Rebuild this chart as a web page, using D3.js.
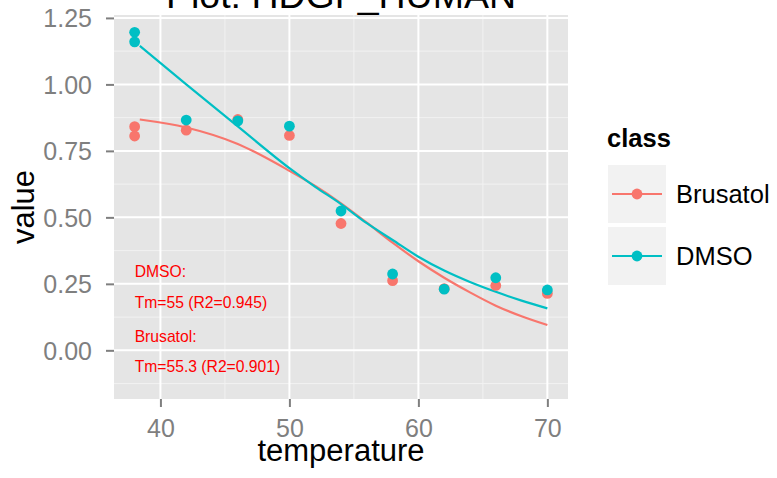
<!DOCTYPE html>
<html><head><meta charset="utf-8">
<script src="https://cdn.jsdelivr.net/npm/d3@7"></script>
<style>body{margin:0;background:#fff;} text{font-family:"Liberation Sans",Arial,Helvetica,sans-serif;}</style>
</head><body>
<svg id="chart" width="777" height="478"></svg>
<script>
// ---- data ----
const title = "Plot: HDGF_HUMAN";
const classes = ["Brusatol", "DMSO"];
const colors = ["#F8766D", "#00BFC4"];
const pointTemps = [38, 38, 42, 46, 50, 54, 58, 62, 66, 70];
const brusatolValues = [0.841, 0.806, 0.828, 0.868, 0.808, 0.477, 0.262, 0.232, 0.244, 0.214];
const dmsoValues = [1.196, 1.160, 0.866, 0.863, 0.843, 0.524, 0.287, 0.230, 0.273, 0.227];
const curveTemps = [38.4, 42, 46, 50, 52, 54, 56, 58, 60, 62, 64, 66, 68, 70];
const brusatolCurve = [0.868, 0.838, 0.776, 0.675, 0.618, 0.553, 0.48, 0.405, 0.335, 0.273, 0.218, 0.168, 0.128, 0.095];
const dmsoCurve = [1.145, 1.0, 0.842, 0.685, 0.615, 0.55, 0.478, 0.415, 0.352, 0.30, 0.257, 0.22, 0.187, 0.158];
const xTicks = [40, 50, 60, 70];
const xMinor = [45, 55, 65];
const yTicks = [0, 0.25, 0.5, 0.75, 1.0, 1.25];
const yMinor = [-0.125, 0.125, 0.375, 0.625, 0.875, 1.125];
const annotations = ["DMSO:", "Tm=55 (R2=0.945)", "Brusatol:", "Tm=55.3 (R2=0.901)"];
const annotationY = [0.298, 0.178, 0.051, -0.062];
const annotationX = 38;

// ---- layout ----
const svg = d3.select("#chart");
const P = {left: 114, right: 568, top: 15, bottom: 399};
const x = d3.scaleLinear().domain([36.4, 71.6]).range([P.left, P.right]);
const y = d3.scaleLinear().domain([-0.183, 1.261]).range([P.bottom, P.top]);
const color = d3.scaleOrdinal().domain(classes).range(colors);

// panel
svg.append("rect").attr("x", P.left).attr("y", P.top)
  .attr("width", P.right - P.left).attr("height", P.bottom - P.top).attr("fill", "#e5e5e5");
const grid = svg.append("g");
grid.selectAll(".ym").data(yMinor).join("line")
  .attr("x1", P.left).attr("x2", P.right).attr("y1", d => y(d)).attr("y2", d => y(d))
  .attr("stroke", "#f2f2f2").attr("stroke-width", 1);
grid.selectAll(".xm").data(xMinor).join("line")
  .attr("y1", P.top).attr("y2", P.bottom).attr("x1", d => x(d)).attr("x2", d => x(d))
  .attr("stroke", "#f2f2f2").attr("stroke-width", 1);
grid.selectAll(".yM").data(yTicks).join("line")
  .attr("x1", P.left).attr("x2", P.right).attr("y1", d => y(d)).attr("y2", d => y(d))
  .attr("stroke", "#fff").attr("stroke-width", 2);
grid.selectAll(".xM").data(xTicks).join("line")
  .attr("y1", P.top).attr("y2", P.bottom).attr("x1", d => x(d)).attr("x2", d => x(d))
  .attr("stroke", "#fff").attr("stroke-width", 2);

// axes
const xAxis = svg.append("g").attr("transform", `translate(0,${P.bottom})`)
  .call(d3.axisBottom(x).tickValues(xTicks).tickSize(8).tickPadding(6).tickFormat(d3.format("d")));
const yAxis = svg.append("g").attr("transform", `translate(${P.left},0)`)
  .call(d3.axisLeft(y).tickValues(yTicks).tickSize(8).tickPadding(14).tickFormat(d3.format(".2f")));
[xAxis, yAxis].forEach(a => {
  a.select(".domain").remove();
  a.selectAll(".tick line").attr("stroke", "#7f7f7f").attr("stroke-width", 2);
  a.selectAll(".tick text").attr("fill", "#7f7f7f").style("font-size", "25px")
    .style("font-family", "'Liberation Sans',Arial,Helvetica,sans-serif");
});
xAxis.selectAll(".tick text").attr("dy", null).attr("y", 38);
yAxis.selectAll(".tick text").attr("dy", "0.36em");

// lines
const line = d3.line().x(d => x(d[0])).y(d => y(d[1])).curve(d3.curveMonotoneX);
const curves = [brusatolCurve, dmsoCurve];
classes.forEach((c, i) => {
  svg.append("path").datum(curveTemps.map((t, j) => [t, curves[i][j]]))
    .attr("d", line).attr("fill", "none").attr("stroke", color(c)).attr("stroke-width", 2.2);
});

// points
const vals = [brusatolValues, dmsoValues];
classes.forEach((c, i) => {
  svg.append("g").selectAll("circle").data(pointTemps.map((t, j) => [t, vals[i][j]])).join("circle")
    .attr("cx", d => x(d[0])).attr("cy", d => y(d[1])).attr("r", 5.4).attr("fill", color(c));
});

// annotations
svg.append("g").selectAll("text").data(annotations).join("text")
  .attr("x", x(annotationX)).attr("y", (d, i) => y(annotationY[i])).attr("dy", "0.35em")
  .attr("fill", "#ff0000").style("font-size", "15.7px").text(d => d);

// titles
svg.append("text").attr("x", (P.left + P.right) / 2).attr("y", 8).attr("text-anchor", "middle")
  .style("font-size", "37.5px").attr("fill", "#000").text(title);
svg.append("text").attr("x", (P.left + P.right) / 2).attr("y", 461).attr("text-anchor", "middle")
  .style("font-size", "31px").attr("fill", "#000").text("temperature");
svg.append("text").attr("transform", `translate(34,${(P.top + P.bottom) / 2}) rotate(-90)`)
  .attr("text-anchor", "middle").style("font-size", "31px").attr("fill", "#000").text("value");

// legend
const lg = svg.append("g");
lg.append("text").attr("x", 607).attr("y", 147).style("font-size", "25.5px").style("font-weight", "bold")
  .attr("fill", "#000").text("class");
classes.forEach((c, i) => {
  const ky = 165 + i * 62;
  lg.append("rect").attr("x", 608).attr("y", ky).attr("width", 58).attr("height", 58).attr("fill", "#f2f2f2");
  lg.append("line").attr("x1", 612).attr("x2", 662).attr("y1", ky + 29).attr("y2", ky + 29)
    .attr("stroke", color(c)).attr("stroke-width", 2.2);
  lg.append("circle").attr("cx", 637).attr("cy", ky + 29).attr("r", 5.4).attr("fill", color(c));
  lg.append("text").attr("x", 676).attr("y", ky + 29).attr("dy", "0.36em").style("font-size", "25.5px")
    .attr("fill", "#000").text(c);
});
</script>
</body></html>
